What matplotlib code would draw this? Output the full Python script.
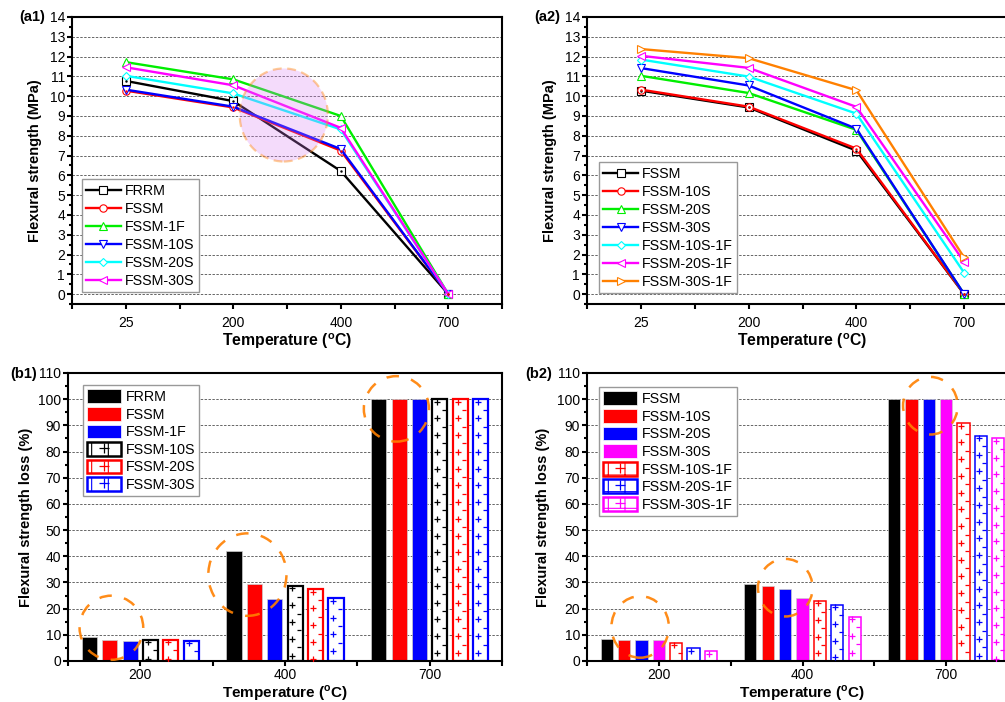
import numpy as np
import matplotlib
matplotlib.use('Agg')
import matplotlib.pyplot as plt
from matplotlib.patches import Ellipse, Patch
from matplotlib.lines import Line2D
from matplotlib.legend_handler import HandlerTuple
from matplotlib.ticker import MultipleLocator, FixedLocator

plt.rcParams['font.family'] = ['Liberation Sans', 'DejaVu Sans']
plt.rcParams['mathtext.fontset'] = 'custom'
plt.rcParams['mathtext.rm'] = 'Liberation Sans'
plt.rcParams['mathtext.bf'] = 'Liberation Sans:bold'
plt.rcParams['hatch.linewidth'] = 0.8

# temperatures (categories)
temps_a = ['25', '200', '400', '700']
temps_b = ['200', '400', '700']

# (a1) flexural strength, MPa
a1_names = ['FRRM', 'FSSM', 'FSSM-1F', 'FSSM-10S', 'FSSM-20S', 'FSSM-30S']
a1_frrm = [10.77, 9.75, 6.22, 0]
a1_fssm = [10.28, 9.43, 7.25, 0]
a1_fssm_1f = [11.72, 10.85, 9.0, 0]
a1_fssm_10s = [10.33, 9.47, 7.33, 0]
a1_fssm_20s = [11.03, 10.14, 8.32, 0]
a1_fssm_30s = [11.46, 10.55, 8.4, 0]

# (a2) flexural strength, MPa
a2_names = ['FSSM', 'FSSM-10S', 'FSSM-20S', 'FSSM-30S',
            'FSSM-10S-1F', 'FSSM-20S-1F', 'FSSM-30S-1F']
a2_fssm = [10.28, 9.43, 7.25, 0]
a2_fssm_10s = [10.33, 9.47, 7.35, 0]
a2_fssm_20s = [11.03, 10.16, 8.3, 0]
a2_fssm_30s = [11.42, 10.54, 8.36, 0]
a2_fssm_10s_1f = [11.85, 10.99, 9.12, 1.08]
a2_fssm_20s_1f = [12.04, 11.43, 9.46, 1.63]
a2_fssm_30s_1f = [12.38, 11.92, 10.3, 1.85]

# (b1) flexural strength loss, %
b1_names = ['FRRM', 'FSSM', 'FSSM-1F', 'FSSM-10S', 'FSSM-20S', 'FSSM-30S']
b1_frrm = [9.3, 42.0, 100]
b1_fssm = [8.2, 29.4, 100]
b1_fssm_1f = [7.7, 23.7, 100]
b1_fssm_10s = [8.2, 28.6, 100]
b1_fssm_20s = [8.2, 27.4, 100]
b1_fssm_30s = [7.8, 23.9, 100]

# (b2) flexural strength loss, %
b2_names = ['FSSM', 'FSSM-10S', 'FSSM-20S', 'FSSM-30S',
            'FSSM-10S-1F', 'FSSM-20S-1F', 'FSSM-30S-1F']
b2_fssm = [8.3, 29.4, 100]
b2_fssm_10s = [8.1, 28.7, 100]
b2_fssm_20s = [8.1, 27.5, 100]
b2_fssm_30s = [7.9, 24.1, 100]
b2_fssm_10s_1f = [7.0, 23.0, 90.8]
b2_fssm_20s_1f = [4.9, 21.5, 86.1]
b2_fssm_30s_1f = [3.7, 16.9, 85.0]

BLACK, RED, GREEN, BLUE = '#000000', '#ff0000', '#00ee00', '#0000ff'
CYAN, MAGENTA, ORANGE = '#00ffff', '#ff00ff', '#ff8000'

TICK_FS = 10
LEG_FS = 10.3
temp_label = r'Temperature ($^{\mathbf{o}}$C)'

fig = plt.figure(figsize=(10.05, 7.02), dpi=100)


def style_axes(ax, ncat, xpad=5):
    for s in ax.spines.values():
        s.set_linewidth(1.5)
    ax.set_xlim(-0.5, ncat - 0.5)
    ax.xaxis.set_major_locator(FixedLocator(np.arange(ncat)))
    ax.xaxis.set_minor_locator(FixedLocator(np.arange(ncat + 1) - 0.5))
    ax.tick_params(which='both', direction='out', width=1.5, labelsize=TICK_FS)
    ax.tick_params(axis='x', which='both', length=3.5, pad=xpad)
    ax.tick_params(axis='y', which='major', length=3.5, pad=1.5)
    ax.tick_params(axis='y', which='minor', length=2)
    ax.grid(axis='y', color='0.4', linestyle=(0, (2.5, 1.5)), linewidth=0.7)
    ax.set_axisbelow(True)


def line_legend(ax, anchor):
    ax.legend(loc='lower left', bbox_to_anchor=anchor, borderaxespad=0,
              fontsize=LEG_FS, handlelength=2.4, labelspacing=0.28, numpoints=1,
              fancybox=False, framealpha=1, edgecolor='0.6', borderpad=0.3,
              handletextpad=0.3)


x = np.arange(len(temps_a))

# ---------------- (a1) ----------------
ax1 = fig.add_axes([72 / 1005, 1 - 304 / 702, 430 / 1005, 287 / 702])
a1_series = [a1_frrm, a1_fssm, a1_fssm_1f, a1_fssm_10s, a1_fssm_20s, a1_fssm_30s]
a1_colors = [BLACK, RED, GREEN, BLUE, CYAN, MAGENTA]
a1_markers = ['s', 'o', '^', 'v', 'D', '<']
for vals, name, c, m in zip(a1_series, a1_names, a1_colors, a1_markers):
    ax1.plot(x, vals, color=c, lw=1.7, marker=m, ms=5.3 if m != 'D' else 4.4,
             mfc='white', mec=c, mew=0.8, label=name, zorder=3)
    if m in ('s', 'o'):
        ax1.plot(x, vals, ls='none', marker='.', ms=1.5, color=c, zorder=4)
ax1.set_ylim(-0.5, 14)
ax1.yaxis.set_major_locator(MultipleLocator(1))
ax1.yaxis.set_minor_locator(MultipleLocator(0.5))
ax1.set_xticklabels(temps_a)
style_axes(ax1, len(temps_a))
ax1.set_ylabel('Flexural strength (MPa)', fontsize=10.5, fontweight='bold')
ax1.set_xlabel(temp_label, fontsize=11.3, fontweight='bold', va='baseline')
ax1.yaxis.set_label_coords(-0.07, 0.5)
ax1.xaxis.set_label_coords(0.5, -0.148)
line_legend(ax1, (0.023, 0.042))
# highlight circle
ax1.add_patch(Ellipse((1.47, 9.05), 0.82, 4.7, facecolor=(0.85, 0.5, 0.95),
                      alpha=0.28, edgecolor='none', zorder=5))
ax1.add_patch(Ellipse((1.47, 9.05), 0.82, 4.7, facecolor='none',
                      edgecolor=(1, 0.55, 0.1, 0.45), lw=1.6,
                      linestyle=(0, (4, 2.5)), zorder=5))

# ---------------- (a2) ----------------
ax2 = fig.add_axes([587 / 1005, 1 - 304 / 702, 431 / 1005, 287 / 702])
a2_series = [a2_fssm, a2_fssm_10s, a2_fssm_20s, a2_fssm_30s,
             a2_fssm_10s_1f, a2_fssm_20s_1f, a2_fssm_30s_1f]
a2_colors = [BLACK, RED, GREEN, BLUE, CYAN, MAGENTA, ORANGE]
a2_markers = ['s', 'o', '^', 'v', 'D', '<', '>']
for vals, name, c, m in zip(a2_series, a2_names, a2_colors, a2_markers):
    ax2.plot(x, vals, color=c, lw=1.7, marker=m, ms=5.3 if m != 'D' else 4.4,
             mfc='white', mec=c, mew=0.8, label=name, zorder=3)
    if m in ('s', 'o'):
        ax2.plot(x, vals, ls='none', marker='.', ms=1.5, color=c, zorder=4)
ax2.set_ylim(-0.5, 14)
ax2.yaxis.set_major_locator(MultipleLocator(1))
ax2.yaxis.set_minor_locator(MultipleLocator(0.5))
ax2.set_xticklabels(temps_a)
style_axes(ax2, len(temps_a))
ax2.set_ylabel('Flexural strength (MPa)', fontsize=10.5, fontweight='bold')
ax2.set_xlabel(temp_label, fontsize=11.3, fontweight='bold', va='baseline')
ax2.yaxis.set_label_coords(-0.07, 0.5)
ax2.xaxis.set_label_coords(0.5, -0.148)
line_legend(ax2, (0.028, 0.038))


# ---------------- bar panels ----------------
def pattern_marks(ax, xc, w, h, color, ms):
    # Origin-like sparse "+ -" fill pattern, anchored at the bar top
    step = 6.4
    ys = np.arange(h - 0.9, 0.8, -step)
    ax.plot(np.full(len(ys), xc - w / 2 + 0.32 * w), ys, ls='none', marker='+',
            ms=ms, mew=0.9, color=color, zorder=3)
    ys2 = np.arange(h - 0.9 - step / 2, 0.8, -step)
    ax.plot(np.full(len(ys2), xc + w / 2 - 0.22 * w), ys2, ls='none', marker='_',
            ms=ms * 0.6, mew=0.9, color=color, zorder=3)


def bar_panel(ax, series, names, colors, hatched, pitch, width, elw, ms):
    n = len(series)
    xb = np.arange(len(temps_b))
    handles = []
    for i, (vals, name, c, h) in enumerate(zip(series, names, colors, hatched)):
        xs = xb + (i - (n - 1) / 2) * pitch
        if h:
            ax.bar(xs, vals, width, facecolor='white', edgecolor=c, lw=elw, zorder=2)
            for xc, v in zip(xs, vals):
                pattern_marks(ax, xc, width, v, c, ms)
            p = Patch(facecolor='white', edgecolor=c, lw=1.8, hatch='+')
            mk = Line2D([], [], ls='none', marker='+', color=c, ms=7, mew=0.9)
            handles.append((p, mk))
        else:
            ax.bar(xs, vals, width, color=c, edgecolor='0.8', lw=0.5, zorder=2)
            handles.append(Patch(facecolor=c, edgecolor='white', lw=0.5))
    ax.set_ylim(0, 110)
    ax.yaxis.set_major_locator(MultipleLocator(10))
    ax.yaxis.set_minor_locator(MultipleLocator(5))
    ax.set_xticklabels(temps_b)
    style_axes(ax, len(temps_b), xpad=1.5)
    ax.set_ylabel('Flexural strength loss (%)', fontsize=10.5, fontweight='bold')
    ax.set_xlabel(temp_label, fontsize=11, fontweight='bold', va='baseline')
    ax.xaxis.set_label_coords(0.5, -0.126)
    ax.legend(handles, names, loc='upper left', borderaxespad=0,
              fontsize=LEG_FS, handlelength=2.35, handleheight=1.1,
              labelspacing=0.2, fancybox=False, framealpha=1, edgecolor='0.6',
              borderpad=0.3, handletextpad=0.35,
              handler_map={tuple: HandlerTuple()})
    return ax.get_legend()


def orange_ring(ax, xy, w, h):
    ax.add_patch(Ellipse(xy, w, h, facecolor='none', edgecolor=ORANGE, lw=1.8,
                         alpha=0.9, linestyle=(0, (5, 5)), zorder=6, clip_on=False))


# (b1)
ax3 = fig.add_axes([68 / 1005, 1 - 661 / 702, 434 / 1005, 288 / 702])
leg3 = bar_panel(ax3,
                 [b1_frrm, b1_fssm, b1_fssm_1f, b1_fssm_10s, b1_fssm_20s, b1_fssm_30s],
                 b1_names, [BLACK, RED, BLUE, BLACK, RED, BLUE],
                 [False, False, False, True, True, True],
                 pitch=0.141, width=0.104, elw=1.6, ms=5)
leg3.set_bbox_to_anchor((0.034, 0.958), transform=ax3.transAxes)
ax3.yaxis.set_label_coords(-0.081, 0.5)
orange_ring(ax3, (-0.2, 12.7), 0.44, 24.5)
orange_ring(ax3, (0.74, 33.0), 0.54, 31.5)
orange_ring(ax3, (1.77, 96.3), 0.45, 25.0)

# (b2)
ax4 = fig.add_axes([587 / 1005, 1 - 661 / 702, 431 / 1005, 288 / 702])
leg4 = bar_panel(ax4,
                 [b2_fssm, b2_fssm_10s, b2_fssm_20s, b2_fssm_30s,
                  b2_fssm_10s_1f, b2_fssm_20s_1f, b2_fssm_30s_1f],
                 b2_names, [BLACK, RED, BLUE, MAGENTA, RED, BLUE, MAGENTA],
                 [False, False, False, False, True, True, True],
                 pitch=0.121, width=0.085, elw=1.1, ms=4.3)
leg4.set_bbox_to_anchor((0.028, 0.951), transform=ax4.transAxes)
ax4.yaxis.set_label_coords(-0.086, 0.5)
orange_ring(ax4, (-0.13, 13.0), 0.4, 23.5)
orange_ring(ax4, (0.88, 28.0), 0.38, 22.0)
orange_ring(ax4, (1.89, 97.5), 0.38, 22.0)

# panel labels
for lab, px, py in [('(a1)', 45, 17), ('(a2)', 560, 17), ('(b1)', 37, 374), ('(b2)', 552, 374)]:
    fig.text(px / 1005, 1 - py / 702, lab, ha='right', va='center',
             fontsize=10.5, fontweight='bold')

fig.savefig('out.png', dpi=100)
